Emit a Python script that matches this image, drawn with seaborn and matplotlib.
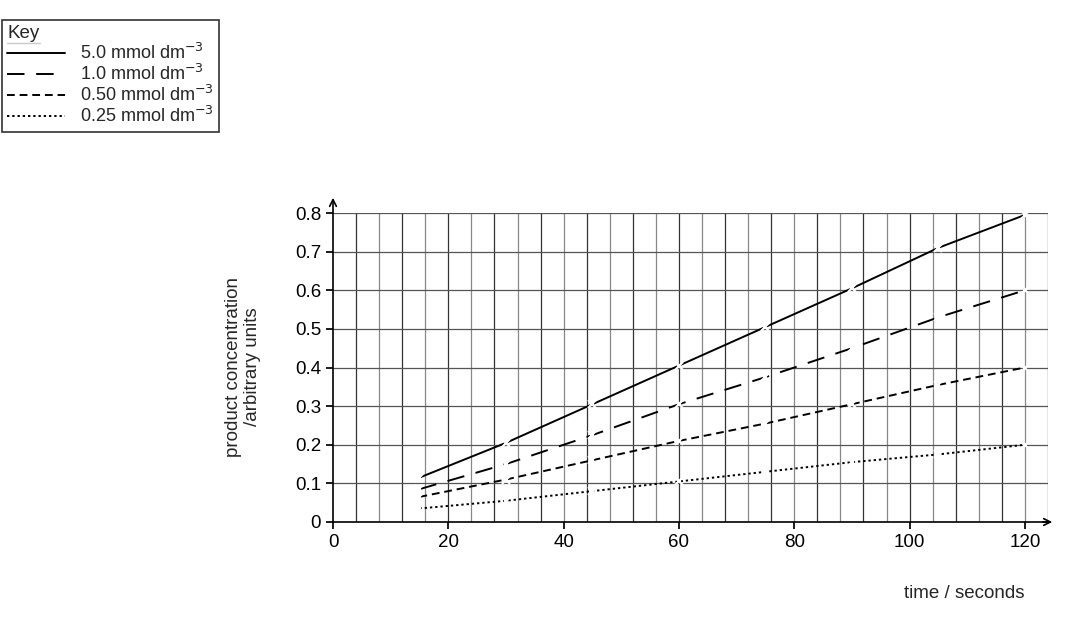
import matplotlib
matplotlib.use("Agg")
import matplotlib.pyplot as plt
import seaborn as sns
import numpy as np
import pandas as pd

sns.set_theme(style="white")
plt.rcParams['font.family'] = ['Liberation Sans', 'DejaVu Sans']

time = [15, 30, 45, 60, 75, 90, 105, 120]
c5_0 = [0.115, 0.205, 0.305, 0.405, 0.505, 0.605, 0.71, 0.795]
c1_0 = [0.085, 0.15, 0.225, 0.305, 0.375, 0.45, 0.53, 0.60]
c0_50 = [0.065, 0.11, 0.16, 0.21, 0.255, 0.305, 0.355, 0.40]
c0_25 = [0.035, 0.055, 0.08, 0.105, 0.13, 0.155, 0.175, 0.20]
labels = ["5.0 mmol dm$^{-3}$", "1.0 mmol dm$^{-3}$", "0.50 mmol dm$^{-3}$", "0.25 mmol dm$^{-3}$"]
series = [c5_0, c1_0, c0_50, c0_25]
dashes = [(None, None), (9, 6), (4, 2.5), (1.2, 1.5)]

fig = plt.figure(figsize=(10.92, 6.22), dpi=100)
ax = fig.add_axes([333/1092, 1-522/622, (1048-333)/1092, (522-213)/622])

df = pd.DataFrame({"time": time * 4,
                   "value": sum(series, []),
                   "series": sum([[l]*len(time) for l in labels], [])})
handles = []
for lab, d in zip(labels, dashes):
    sub = df[df.series == lab]
    sns.lineplot(data=sub, x="time", y="value", ax=ax, color="black", lw=1.4,
                 marker="x", markersize=6, mew=1.5, legend=False)
    ln = ax.lines[-1]
    if d[0] is not None:
        ln.set_dashes(d)
    h = plt.Line2D([], [], color="black", lw=1.4, label=lab)
    if d[0] is not None:
        h.set_dashes(d)
    handles.append(h)

ax.set_xlim(0, 124)
ax.set_ylim(0, 0.8)
ax.set_xticks(np.arange(0, 121, 20))
ax.set_yticks(np.round(np.arange(0, 0.81, 0.1), 1))
ax.set_yticklabels(["0"] + [f"{v:.1f}" for v in np.arange(0.1, 0.81, 0.1)])
for x in np.arange(4, 125, 4):
    ax.axvline(x, color="#333333" if x % 8 else "#888888", lw=0.9, zorder=0)
for y in np.arange(0.1, 0.81, 0.1):
    ax.axhline(y, color="#555555", lw=0.9, zorder=0)
for s in ["top", "right"]:
    ax.spines[s].set_visible(False)
for s in ["left", "bottom"]:
    ax.spines[s].set_color("black"); ax.spines[s].set_linewidth(1.2)
ax.tick_params(axis="both", labelsize=13.5, colors="black", length=5, direction="out", left=True, bottom=True)
ax.set_xlabel(""); ax.set_ylabel("")
ax.annotate("", xy=(1055/1092, 1-522/622), xytext=(1040/1092, 1-522/622), xycoords="figure fraction",
            arrowprops=dict(arrowstyle="->", color="black", lw=1.2))
ax.annotate("", xy=(333/1092, 1-195/622), xytext=(333/1092, 1-215/622), xycoords="figure fraction",
            arrowprops=dict(arrowstyle="->", color="black", lw=1.2))
fig.text(1025/1092, 1-593/622, "time / seconds", ha="right", va="center", fontsize=13.5)
fig.text(243/1092, 1-367/622, "product concentration\n/arbitrary units", ha="center", va="center",
         rotation=90, fontsize=13.5, linespacing=1.1)

leg = fig.legend(handles=handles, loc="upper left", bbox_to_anchor=(2/1092, 1-20/622), frameon=True,
                 fontsize=13, handlelength=3.2, borderaxespad=0, title="Key", alignment="left",
                 labelspacing=0.05, borderpad=0.3, fancybox=False, edgecolor="black")
leg.get_title().set_fontsize(13.5)
leg.get_frame().set_linewidth(1.2)
fig.canvas.draw()
bb = leg.get_title().get_window_extent()
fig.add_artist(plt.Line2D([bb.x0 / 1092, bb.x1 / 1092], [(bb.y0 - 1) / 622] * 2,
                          transform=fig.transFigure, color="black", lw=1))
fig.savefig("out.png", dpi=100)
